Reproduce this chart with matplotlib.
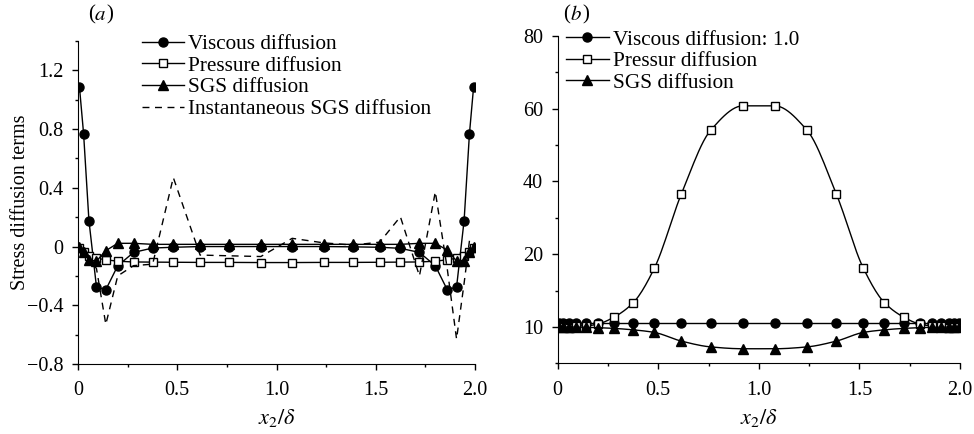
import numpy as np
import matplotlib
matplotlib.use("Agg")
import matplotlib.pyplot as plt
from matplotlib.ticker import MultipleLocator

plt.rcParams['font.family'] = ['Liberation Serif', 'DejaVu Serif']
plt.rcParams['mathtext.fontset'] = 'stix'
plt.rcParams['font.size'] = 14

# wall-normal grid points (shared by both panels)
x2 = np.array([0.007, 0.028, 0.055, 0.093, 0.14, 0.20, 0.28, 0.376, 0.48, 0.615, 0.762, 0.921,
               1.079, 1.238, 1.385, 1.52, 1.624, 1.72, 1.80, 1.86, 1.907, 1.945, 1.972, 1.993])

# panel (a)
visc_a = [1.09, 0.77, 0.177, -0.276, -0.294, -0.131, -0.04, -0.01, -0.005, 0.0, 0.0, 0.0,
          0.0, 0.0, -0.002, -0.005, -0.012, -0.04, -0.131, -0.294, -0.276, 0.177, 0.77, 1.09]
pres_a = [-0.008, -0.035, -0.063, -0.08, -0.09, -0.10, -0.105, -0.106, -0.107, -0.108, -0.108, -0.109,
          -0.109, -0.108, -0.108, -0.107, -0.106, -0.105, -0.10, -0.09, -0.08, -0.063, -0.035, -0.008]
sgs_a = [0.0, -0.04, -0.092, -0.099, -0.028, 0.022, 0.022, 0.015, 0.015, 0.015, 0.015, 0.015,
         0.015, 0.015, 0.015, 0.015, 0.015, 0.022, 0.022, -0.024, -0.099, -0.099, -0.04, 0.0]
inst_a = [0.0, -0.03, -0.08, -0.15, -0.53, -0.20, -0.13, -0.12, 0.47, -0.058, -0.063, -0.068,
          0.056, 0.025, 0.01, 0.03, 0.203, -0.20, 0.373, -0.15, -0.63, -0.25, 0.04, 0.0]

# panel (b)
visc_b = [1.0] * 24
pres_b = [-0.1, -0.1, -0.4, 0.3, 0.3, 0.8, 2.7, 6.7, 16.1, 36.6, 54.2, 60.8,
          60.8, 54.2, 36.6, 16.1, 6.7, 2.7, 0.8, 0.3, 0.3, -0.4, -0.1, -0.1]
sgs_b = [0.0, 0.0, 0.0, -0.05, -0.1, -0.2, -0.4, -0.8, -1.5, -3.9, -5.5, -6.0,
         -6.0, -5.5, -3.9, -1.5, -0.8, -0.4, -0.2, -0.1, -0.05, 0.0, 0.0, 0.0]


def smooth_line(x, y, n=12):
    # monotone cubic (Fritsch-Carlson) through the points, only for drawing the curve
    x = np.asarray(x, float)
    y = np.asarray(y, float)
    h = np.diff(x)
    d = np.diff(y) / h
    m = np.zeros_like(y)
    m[0], m[-1] = d[0], d[-1]
    for i in range(1, len(x) - 1):
        if d[i - 1] * d[i] > 0:
            w1 = 2 * h[i] + h[i - 1]
            w2 = h[i] + 2 * h[i - 1]
            m[i] = (w1 + w2) / (w1 / d[i - 1] + w2 / d[i])
    xs, ys = [], []
    for i in range(len(x) - 1):
        t = np.linspace(0, 1, n, endpoint=False)
        h00 = 2 * t**3 - 3 * t**2 + 1
        h10 = t**3 - 2 * t**2 + t
        h01 = -2 * t**3 + 3 * t**2
        h11 = t**3 - t**2
        xs.append(x[i] + t * h[i])
        ys.append(h00 * y[i] + h10 * h[i] * m[i] + h01 * y[i + 1] + h11 * h[i] * m[i + 1])
    xs.append([x[-1]])
    ys.append([y[-1]])
    return np.concatenate(xs), np.concatenate(ys), n


fig = plt.figure(figsize=(9.74, 4.34), dpi=100)
ax1 = fig.add_axes([0.0801, 0.1613, 0.4076, 0.7442])
ax2 = fig.add_axes([0.5726, 0.1629, 0.4130, 0.7541])

ax1.plot(x2, visc_a, marker='o', color='black', lw=1.0, markersize=6.5, label='Viscous diffusion')
ax1.plot(x2, pres_a, marker='s', mfc='white', markersize=6, color='black', lw=1.0,
         label='Pressure diffusion')
ax1.plot(x2, sgs_a, marker='^', color='black', lw=1.0, markersize=7, label='SGS diffusion')
ax1.plot(x2, inst_a, color='black', lw=1.0, ls=(0, (5, 4)), label='Instantaneous SGS diffusion')

ax2.plot(x2, visc_b, marker='o', color='black', lw=1.0, markersize=6.5, label='Viscous diffusion: 1.0')
xs, ys, step = smooth_line(x2, pres_b)
ax2.plot(xs, ys, marker='s', markevery=step, mfc='white', markersize=6, color='black', lw=1.0,
         label='Pressur diffusion')
xs, ys, step = smooth_line(x2, sgs_b)
ax2.plot(xs, ys, marker='^', markevery=step, color='black', lw=1.0, markersize=7,
         label='SGS diffusion')

for ax in (ax1, ax2):
    ax.spines['top'].set_visible(False)
    ax.spines['right'].set_visible(False)
    ax.set_xlim(0, 2.0)
    ax.set_xticks([0, 0.5, 1.0, 1.5, 2.0])
    ax.set_xticklabels(['0', '0.5', '1.0', '1.5', '2.0'])
    ax.xaxis.set_minor_locator(MultipleLocator(0.25))
    ax.tick_params(which='major', direction='out', length=4.5, width=1.0, labelsize=14.5, pad=6)
    ax.tick_params(axis='x', which='major', pad=8)
    ax.tick_params(which='minor', direction='out', length=2.5, width=1.0)
    ax.set_xlabel(r'$x_2/\delta$', fontsize=16, labelpad=5)

ax1.set_ylim(-0.8, 1.4)
ax1.set_yticks([-0.8, -0.4, 0, 0.4, 0.8, 1.2])
ax1.set_yticklabels(['\u22120.8', '\u22120.4', '0', '0.4', '0.8', '1.2'])
ax1.yaxis.set_minor_locator(MultipleLocator(0.2))
ax1.set_ylabel('Stress diffusion terms', fontsize=14.5)
ax1.yaxis.set_label_coords(-0.12, 0.5)

ax2.set_ylim(-10, 80)
ax2.set_yticks([0, 20, 40, 60, 80])
ax2.set_yticklabels(['10', '20', '40', '60', '80'])
ax2.yaxis.set_minor_locator(MultipleLocator(10))

leg_kw = dict(frameon=False, loc='upper left', handlelength=2.0, handletextpad=0.2,
              labelspacing=0.08, borderpad=0.1, fontsize=15.3)
ax1.legend(bbox_to_anchor=(0.128, 1.06), **leg_kw)
ax2.legend(bbox_to_anchor=(-0.011, 1.058), **leg_kw)

fig.text(0.09, 0.965, '(', fontsize=15, va='center')
fig.text(0.097, 0.965, r'$a$', fontsize=15, va='center')
fig.text(0.109, 0.965, ')', fontsize=15, va='center')
fig.text(0.578, 0.965, '(', fontsize=15, va='center')
fig.text(0.585, 0.965, r'$b$', fontsize=15, va='center')
fig.text(0.598, 0.965, ')', fontsize=15, va='center')

fig.savefig('out.png', dpi=100)
